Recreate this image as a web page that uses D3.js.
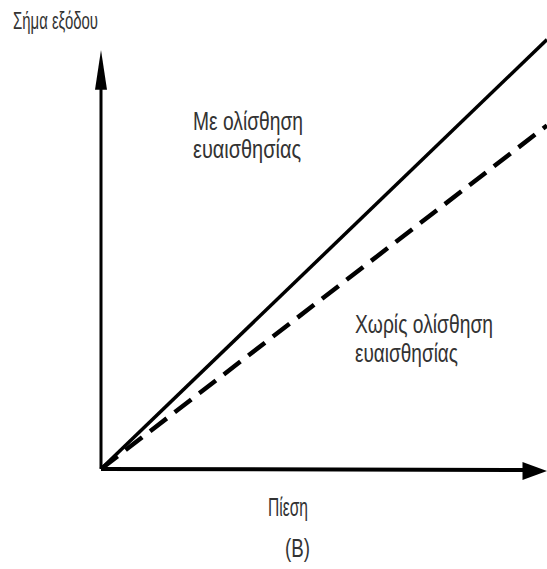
<!DOCTYPE html>
<html>
<head>
<meta charset="utf-8">
<script src="https://cdn.jsdelivr.net/npm/d3@7"></script>
<style>
  body { margin: 0; background: #fff; }
  text { font-family: "Liberation Sans Narrow", "Liberation Sans", Arial, sans-serif; fill: #333; }
</style>
</head>
<body>
<div id="chart"></div>
<script>
// data (arbitrary units, origin = 0)
const pressure = [0, 10];
const withDrift = [0, 10.25];    // solid line
const withoutDrift = [0, 8.2];   // dashed line
const labels = {
  yTitle: "Σήμα εξόδου",
  xTitle: "Πίεση",
  caption: "(B)",
  drift: ["Με ολίσθηση", "ευαισθησίας"],
  noDrift: ["Χωρίς ολίσθηση", "ευαισθησίας"]
};

const W = 547, H = 569;
const svg = d3.select("#chart").append("svg")
  .attr("width", W).attr("height", H);

// scales
const x = d3.scaleLinear().domain([0, 10]).range([101, 547]);
const y = d3.scaleLinear().domain([0, 10]).range([469, 50]);

// axes
svg.append("line")
  .attr("x1", x(0)).attr("y1", y(0)).attr("x2", x(0)).attr("y2", y(9.4))
  .attr("stroke", "#000").attr("stroke-width", 3);
svg.append("path")
  .attr("d", `M${x(0)},${y(10)} L${x(0) - 6},${y(9.05)} L${x(0) + 6},${y(9.05)} Z`)
  .attr("fill", "#000");

svg.append("line")
  .attr("x1", x(0)).attr("y1", y(0)).attr("x2", x(9.5)).attr("y2", y(0) + 1)
  .attr("stroke", "#000").attr("stroke-width", 4);
svg.append("path")
  .attr("d", `M${x(10)},${y(0) + 2} L${x(9.45)},${y(0) - 7} L${x(9.45)},${y(0) + 11} Z`)
  .attr("fill", "#000");

const line = d3.line()
  .x((d, i) => x(pressure[i]))
  .y(d => y(d));

svg.append("path")
  .datum(withDrift)
  .attr("d", line)
  .attr("fill", "none")
  .attr("stroke", "#000")
  .attr("stroke-width", 3.5);

svg.append("path")
  .datum(withoutDrift)
  .attr("d", line)
  .attr("fill", "none")
  .attr("stroke", "#000")
  .attr("stroke-width", 4.5)
  .attr("stroke-dasharray", "21,10");

// text
function label(txt, px, py, len, size) {
  svg.append("text")
    .attr("x", px).attr("y", py)
    .attr("font-size", size)
    .attr("textLength", len)
    .attr("lengthAdjust", "spacingAndGlyphs")
    .text(txt);
}
label(labels.yTitle, 13, 29, 85, 24);
label(labels.drift[0], 193, 130, 110, 25);
label(labels.drift[1], 193, 158, 108, 25);
label(labels.noDrift[0], 355, 333, 138, 25);
label(labels.noDrift[1], 355, 362, 103, 25);
label(labels.xTitle, 268, 516, 40, 26);
label(labels.caption, 285, 557, 25, 26);
</script>
</body>
</html>
